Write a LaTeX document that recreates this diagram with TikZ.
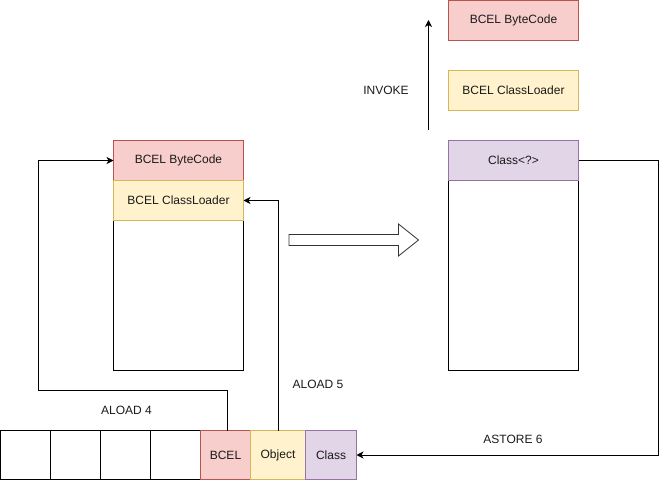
\documentclass[tikz,border=0pt]{standalone}
\usepackage{fontspec}
\setmainfont{Liberation Sans}
\usetikzlibrary{arrows.meta}
\definecolor{redfill}{HTML}{F8CECC}\definecolor{redline}{HTML}{B85450}
\definecolor{yelfill}{HTML}{FFF2CC}\definecolor{yelline}{HTML}{D6B656}
\definecolor{purfill}{HTML}{E1D5E7}\definecolor{purline}{HTML}{9673A6}
\definecolor{txt}{HTML}{1A1A1A}
\tikzset{
  x=1pt,y=-1pt,
  every node/.style={font=\fontsize{12}{14}\selectfont,text=txt,inner sep=0pt,outer sep=0pt},
  box/.style={draw=black,line width=0.9pt,minimum width=130pt,minimum height=40pt,anchor=north west},
  redbox/.style={box,fill=redfill,draw=redline},
  yelbox/.style={box,fill=yelfill,draw=yelline},
  purbox/.style={box,fill=purfill,draw=purline},
  cell/.style={draw=black,line width=0.9pt,fill=white,minimum height=49pt,anchor=north west},
  conn/.style={line width=0.9pt,-{Stealth[length=7pt,width=7pt,inset=2pt]}},
  blockarrow/.style={draw=black!80,fill=white,line width=0.8pt,line join=miter},
  lbl/.style={anchor=center}
}
\begin{document}
\begin{tikzpicture}
\useasboundingbox (0,0) rectangle (667,481);
% left stack
\node[box,minimum height=150pt] (lbody) at (113.5,220) {};
\node[redbox] (lbc) at (113.5,140.5) {BCEL ByteCode};
\node[yelbox] (lcl) at (113.5,180.5) {BCEL ClassLoader};
% right stack
\node[box,minimum height=190pt] (rbody) at (448.5,180) {};
\node[purbox] (rcls) at (448.5,140.5) {Class<?>};
% top right
\node[redbox] (tbc) at (448.5,0.5) {BCEL ByteCode};
\node[yelbox] (tcl) at (448.5,70.5) {BCEL ClassLoader};
% bottom row
\node[cell,minimum width=50pt] (c0) at (0.5,430.5) {};
\node[cell,minimum width=50pt] (c1) at (50.5,430.5) {};
\node[cell,minimum width=50pt] (c2) at (100.5,430.5) {};
\node[cell,minimum width=50pt] (c3) at (150.5,430.5) {};
\node[cell,minimum width=50pt,fill=redfill,draw=redline] (bcel) at (200.5,430.5) {BCEL};
\node[cell,minimum width=55pt,fill=yelfill,draw=yelline] (obj) at (250.5,430.5) {Object};
\node[cell,minimum width=51pt,fill=purfill,draw=purline] (cls) at (305.5,430.5) {Class};
% block arrow
\draw[blockarrow] (289,234.5) -- (398.5,234.5) -- (398.5,224) -- (418.5,240) -- (398.5,256) -- (398.5,245.5) -- (289,245.5) -- cycle;
% connectors
\coordinate (k1) at (38.5,390.5);
\coordinate (k2) at (658,455);
\coordinate (iv0) at (428.5,130);
\coordinate (iv1) at (428.5,20);
\draw[conn] ([xshift=1.5pt]bcel.north) |- (k1) |- (lbc.west);
\draw[conn] (obj.north) |- (lcl.east);
\draw[conn] (rcls.east) -| (k2) -- (cls.east);
\draw[conn] (iv0) -- (iv1);
% labels
\node[lbl] (la4) at (126.5,410) {ALOAD 4};
\node[lbl] (la5) at (318,384) {ALOAD 5};
\node[lbl] (las) at (513,439) {ASTORE 6};
\node[lbl] (linv) at (386,90) {INVOKE};
\end{tikzpicture}
\end{document}
